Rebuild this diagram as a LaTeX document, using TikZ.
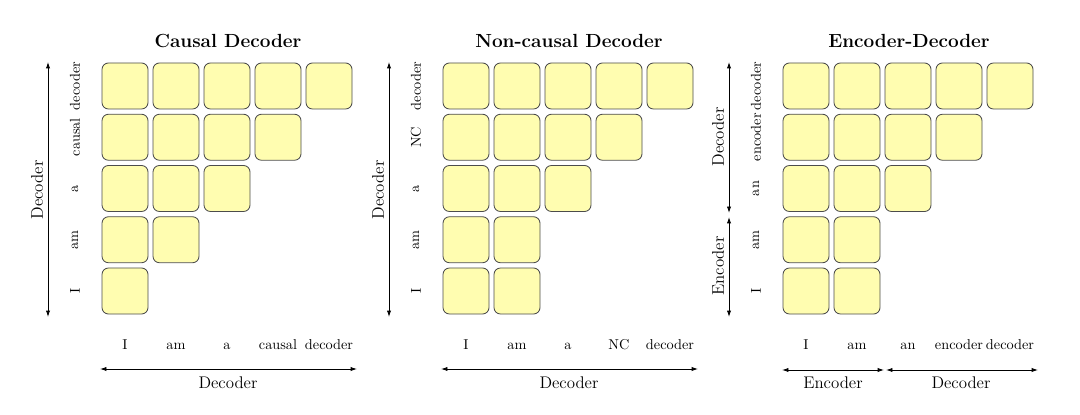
\documentclass[tikz,border=0pt]{standalone}
\usetikzlibrary{arrows.meta}
\definecolor{cellfill}{HTML}{FFFDB0}
\begin{document}
\begin{tikzpicture}[x=0.7pt,y=-0.7pt,
  cell/.style={draw=black!70, fill=cellfill, rounded corners=4.5pt, minimum size=32.2pt, inner sep=0pt, line width=0.6pt},
  tick/.style={font=\fontsize{10}{12}\selectfont, inner sep=0pt},
  axlab/.style={font=\fontsize{11.8}{13}\selectfont, inner sep=0pt},
  ttl/.style={font=\fontsize{13.3}{15}\selectfont\bfseries, inner sep=0pt},
  axis/.style={line width=0.6pt, {Latex[length=4.5pt,width=3pt]}-{Latex[length=4.5pt,width=3pt]}}]
\useasboundingbox (0,0) rectangle (1080,415);

% ---------- Panel 1: Causal Decoder ----------
\node[ttl,anchor=base] (t1) at (228,48) {Causal Decoder};
\foreach \r in {1,...,5}{
  \pgfmathtruncatemacro\n{6-\r}
  \foreach \c in {1,...,\n}{
    \node[cell] (a-\r-\c) at ({125+51*(\c-1)},{86+51.25*(\r-1)}) {};
  }
}
\foreach \t [count=\i] in {decoder,causal,a,am,I}{
  \node[tick,rotate=90] (ar\i) at (75,{86+51.25*(\i-1)}) {\t};
}
\foreach \t [count=\i] in {I,am,a,causal,decoder}{
  \node[tick,anchor=base] (ac\i) at ({125+51*(\i-1)},349) {\t};
}
\coordinate (a-vt) at (48,62);
\coordinate (a-vb) at (48,317);
\draw[axis] (a-vt) -- (a-vb);
\node[axlab,rotate=90] (a-vl) at (37,190) {Decoder};
\coordinate (a-hl) at (100,369);
\coordinate (a-hr) at (357,369);
\draw[axis] (a-hl) -- (a-hr);
\node[axlab,anchor=base] (a-hlab) at (228,388) {Decoder};

% ---------- Panel 2: Non-causal Decoder ----------
\begin{scope}[shift={(341,0)}]
\node[ttl,anchor=base] (t2) at (228,48) {Non-causal Decoder};
\foreach \r in {1,...,5}{
  \pgfmathtruncatemacro\n{\r<5 ? 6-\r : 2}
  \foreach \c in {1,...,\n}{
    \node[cell] (b-\r-\c) at ({125+51*(\c-1)},{86+51.25*(\r-1)}) {};
  }
}
\foreach \t [count=\i] in {decoder,NC,a,am,I}{
  \node[tick,rotate=90] (br\i) at (75,{86+51.25*(\i-1)}) {\t};
}
\foreach \t [count=\i] in {I,am,a,NC,decoder}{
  \node[tick,anchor=base] (bc\i) at ({125+51*(\i-1)},349) {\t};
}
\coordinate (b-vt) at (48,62);
\coordinate (b-vb) at (48,317);
\draw[axis] (b-vt) -- (b-vb);
\node[axlab,rotate=90] (b-vl) at (37,190) {Decoder};
\coordinate (b-hl) at (100,369);
\coordinate (b-hr) at (357,369);
\draw[axis] (b-hl) -- (b-hr);
\node[axlab,anchor=base] (b-hlab) at (228,388) {Decoder};
\end{scope}

% ---------- Panel 3: Encoder-Decoder ----------
\begin{scope}[shift={(681,0)}]
\node[ttl,anchor=base] (t3) at (228,48) {Encoder-Decoder};
\foreach \r in {1,...,5}{
  \pgfmathtruncatemacro\n{\r<5 ? 6-\r : 2}
  \foreach \c in {1,...,\n}{
    \node[cell] (c-\r-\c) at ({125+51*(\c-1)},{86+51.25*(\r-1)}) {};
  }
}
\foreach \t [count=\i] in {decoder,encoder,an,am,I}{
  \node[tick,rotate=90] (cr\i) at (75,{86+51.25*(\i-1)}) {\t};
}
\foreach \t [count=\i] in {I,am,an,encoder,decoder}{
  \node[tick,anchor=base] (cc\i) at ({125+51*(\i-1)},349) {\t};
}
\coordinate (c-vt) at (48,62);
\coordinate (c-vm1) at (48,213);
\coordinate (c-vm2) at (48,217);
\coordinate (c-vb) at (48,317);
\draw[axis] (c-vt) -- (c-vm1);
\draw[axis] (c-vm2) -- (c-vb);
\node[axlab,rotate=90] (c-vl1) at (37,137) {Decoder};
\node[axlab,rotate=90] (c-vl2) at (37,266) {Encoder};
\coordinate (c-hl) at (101,370);
\coordinate (c-hm1) at (203,370);
\coordinate (c-hm2) at (205,370);
\coordinate (c-hr) at (357,370);
\draw[axis] (c-hl) -- (c-hm1);
\draw[axis] (c-hm2) -- (c-hr);
\node[axlab,anchor=base] (c-hlab1) at (152,388) {Encoder};
\node[axlab,anchor=base] (c-hlab2) at (280,388) {Decoder};
\end{scope}
\end{tikzpicture}
\end{document}
